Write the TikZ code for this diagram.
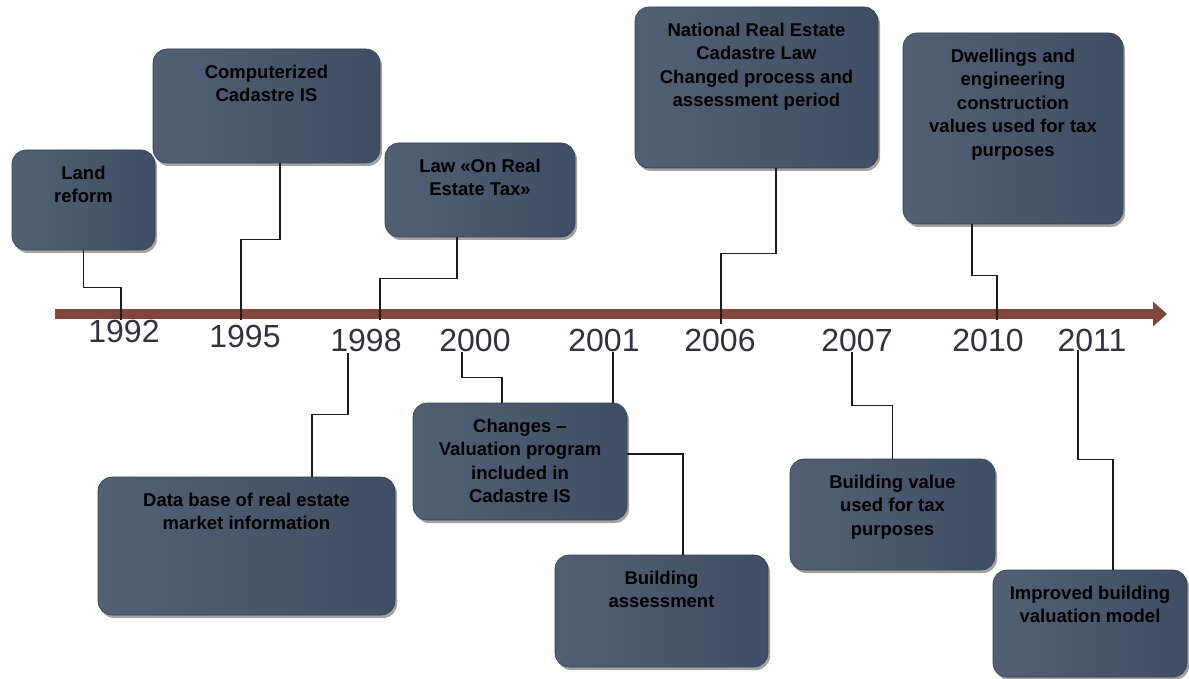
\documentclass[tikz,border=0pt]{standalone}
\usepackage{fontspec}
\setmainfont{Liberation Sans}
\usetikzlibrary{arrows.meta,shadows,calc}

\definecolor{boxlight}{RGB}{82,96,116}
\definecolor{boxdark}{RGB}{63,78,100}
\definecolor{boxedge}{RGB}{52,64,82}
\definecolor{axisred}{RGB}{128,70,60}
\definecolor{yeargray}{RGB}{48,50,62}
\definecolor{linkgray}{RGB}{28,28,28}

% text of an event box: width, height, lines
\newcommand{\evtxt}[3]{\parbox[c][#2][t]{#1}{\centering\vspace*{16pt}#3}}

\tikzset{every picture/.style={line width=0.75pt}}
\tikzset{
  evbox/.style={inner sep=0pt, rounded corners=14pt, draw=boxedge, line width=0.6pt,
    left color=boxlight, right color=boxdark,
    drop shadow={shadow xshift=2pt, shadow yshift=-3pt, opacity=0.45, fill=black!80},
    font=\bfseries\fontsize{18.5}{23.5}\selectfont},
  yearlbl/.style={inner sep=0pt, text=yeargray, font=\fontsize{32}{36}\selectfont},
  link/.style={draw=linkgray, line width=1.2pt},
  timeaxis/.style={draw=axisred, line width=10pt, -{Triangle[length=14pt,width=24pt]}},
}

\begin{document}
\begin{tikzpicture}[x=1pt,y=1pt,yscale=-1,xscale=1]
\useasboundingbox (0,0) rectangle (1189,679);

%Timeline
\coordinate (tstart) at (55,314);
\coordinate (tend) at (1167,314);
\draw [timeaxis] (tstart) -- (tend);

% Year Nodes
\node [yearlbl] (n1992) at (124,331) {1992};
\node [yearlbl] (n1995) at (245,336) {1995};
\node [yearlbl] (n1998) at (366,340) {1998};
\node [yearlbl] (n2000) at (475,340) {2000};
\node [yearlbl] (n2001) at (604,340) {2001};
\node [yearlbl] (n2006) at (720,340) {2006};
\node [yearlbl] (n2007) at (857,340) {2007};
\node [yearlbl] (n2010) at (988,340) {2010};
\node [yearlbl] (n2011) at (1092,340) {2011};

% points on the axis / under the years
\coordinate (t1992) at (121,320);
\coordinate (t1995) at (241,320);
\coordinate (t1998) at (380,320);
\coordinate (t2006) at (721,324);
\coordinate (t2010) at (997,320);
\coordinate (b1998) at (348,353);
\coordinate (b2000) at (462,352);
\coordinate (b2001) at (613,352);
\coordinate (b2007) at (852,352);
\coordinate (b2011) at (1078,350);

%Shape: Rounded Rect, above the axis
\node [evbox] (land) at (83.5,200) {\evtxt{143pt}{100pt}{Land\\reform}};
\node [evbox] (cis) at (266.5,106) {\evtxt{227pt}{114pt}{Computerized\\Cadastre IS}};
\node [evbox] (law) at (480,190) {\evtxt{190pt}{94pt}{Law «On Real\\Estate Tax»}};
\node [evbox] (natl) at (756.5,87.5) {\evtxt{243pt}{161pt}{National Real Estate\\Cadastre Law\\Changed process and\\assessment period}};
\node [evbox] (dwell) at (1013,128.5) {\evtxt{220pt}{191pt}{Dwellings and\\engineering\\construction\\values used for tax\\purposes}};

%Shape: Rounded Rect, below the axis
\node [evbox] (dbase) at (246.5,546) {\evtxt{297pt}{138pt}{Data base of real estate\\market information}};
\node [evbox] (chg) at (520,461.5) {\evtxt{214pt}{117pt}{Changes –\\Valuation program\\included in\\Cadastre IS}};
\node [evbox] (bldg) at (661.5,611) {\evtxt{213pt}{112pt}{Building\\assessment}};
\node [evbox] (bval) at (892.5,514.5) {\evtxt{205pt}{111pt}{Building value\\used for tax\\purposes}};
\node [evbox] (impr) at (1090,623.5) {\evtxt{194pt}{107pt}{Improved building\\valuation model}};

%Straight Lines
\draw [link] (land.south) -- ++(0,37) -| (t1992);
\draw [link] ([xshift=13.5pt]cis.south) -- ++(0,76) -| (t1995);
\draw [link] ([xshift=-23pt]law.south) -- ++(0,41) -| (t1998);
\draw [link] ([xshift=19.5pt]natl.south) -- ++(0,85) -| (t2006);
\draw [link] ([xshift=-41pt]dwell.south) -- ++(0,51) -| (t2010);
%Straight Lines
\draw [link] ([xshift=65.5pt]dbase.north) -- ++(0,-62) -| (b1998);
\draw [link] ([xshift=-18pt]chg.north) -- ++(0,-25) -| (b2000);
\draw [link] ([xshift=93pt]chg.north) -- (b2001);
\draw [link] ($(chg.east)+(0,-7.5)$) -| ([xshift=21.5pt]bldg.north);
\draw [link] (bval.north) -- ++(0,-53) -| (b2007);
\draw [link] ([xshift=23pt]impr.north) -- ++(0,-110) -| (b2011);

\end{tikzpicture}
\end{document}
